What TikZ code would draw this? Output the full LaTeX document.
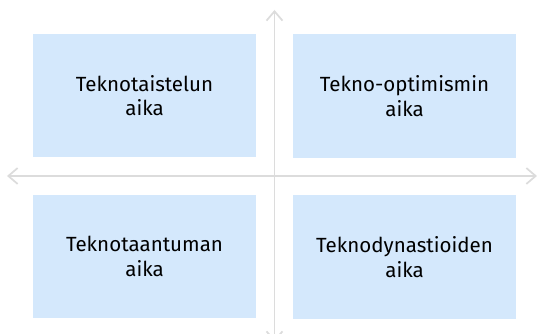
\documentclass[tikz,border=0pt]{standalone}
\usepackage{fontspec}
\setmainfont{Fira Sans}
\usetikzlibrary{arrows.meta}
\definecolor{boxblue}{HTML}{D4E8FC}
\definecolor{axisgray}{HTML}{DCDCDC}
\begin{document}
\begin{tikzpicture}[x=0.75pt,y=-0.75pt,
  quad/.style={fill=boxblue, minimum width=167.5pt, minimum height=92.5pt,
    align=center, font=\fontsize{15.4}{18.5}\selectfont, text=black},
  axis/.style={draw=axisgray, line width=1.3pt,
    {Straight Barb[length=7pt,width=12pt]}-{Straight Barb[length=7pt,width=12pt]}}]
  \useasboundingbox (0,0) rectangle (537,334);
  % axes
  \coordinate (left) at (7,176);
  \coordinate (right) at (537,176);
  \coordinate (top) at (274.5,10);
  \coordinate (bottom) at (274.5,342);
  \draw[axis] (left) -- (right);
  \draw[axis] (top) -- (bottom);
  % quadrants
  \foreach \nd/\x/\y/\word in {
        nw/144.5/95.5/Teknotaistelun,
        ne/404.5/96/Tekno-optimismin,
        sw/144.5/256.5/Teknotaantuman,
        se/404.5/257/Teknodynastioiden
  } {
       \node[quad] (\nd) at (\x,\y) {\word\\aika};
  }
\end{tikzpicture}
\end{document}
